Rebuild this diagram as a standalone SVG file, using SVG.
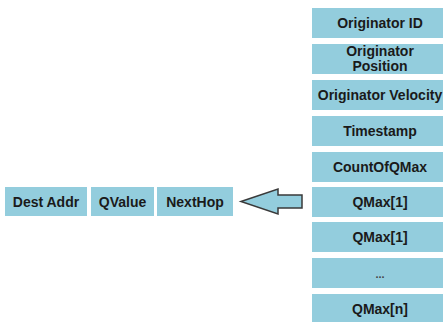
<svg xmlns="http://www.w3.org/2000/svg" width="443" height="322" viewBox="0 0 443 322">
<style>
.box{fill:#93cddd;}
.t{font-family:"Liberation Sans",Arial,sans-serif;font-weight:bold;font-size:14px;fill:#1a1a1a;text-anchor:middle;}
.arrow{fill:#93cddd;stroke:#3a3a3a;stroke-width:1.5;stroke-linejoin:miter;}
</style>
<rect width="443" height="322" fill="#ffffff"/>
<g id="originator-id"><rect class="box" x="312" y="8" width="136" height="30"/><text class="t" x="380" y="28">Originator ID</text></g>
<g id="originator-position"><rect class="box" x="312" y="44" width="136" height="30"/><text class="t" x="380" y="56">Originator</text><text class="t" x="380" y="71">Position</text></g>
<g id="originator-velocity"><rect class="box" x="312" y="80" width="136" height="30"/><text class="t" x="380" y="100">Originator Velocity</text></g>
<g id="timestamp"><rect class="box" x="312" y="116" width="136" height="30"/><text class="t" x="380" y="136">Timestamp</text></g>
<g id="countofqmax"><rect class="box" x="312" y="152" width="136" height="30"/><text class="t" x="380" y="172">CountOfQMax</text></g>
<g id="qmax1a"><rect class="box" x="312" y="187" width="136" height="30"/><text class="t" x="380" y="207">QMax[1]</text></g>
<g id="qmax1b"><rect class="box" x="312" y="222" width="136" height="30"/><text class="t" x="380" y="242">QMax[1]</text></g>
<g id="ellipsis"><rect class="box" x="312" y="258" width="136" height="30"/><text class="t" x="380" y="278" style="font-size:11px;fill:#444">...</text></g>
<g id="qmaxn"><rect class="box" x="312" y="294" width="136" height="30"/><text class="t" x="380" y="314">QMax[n]</text></g>
<g id="dest-addr"><rect class="box" x="5" y="187" width="82" height="29"/><text class="t" x="46" y="206.5">Dest Addr</text></g>
<g id="qvalue"><rect class="box" x="91" y="187" width="63" height="29"/><text class="t" x="122.5" y="206.5">QValue</text></g>
<g id="nexthop"><rect class="box" x="157" y="187" width="76" height="29"/><text class="t" x="195" y="206.5">NextHop</text></g>
<g id="connectors">
<polygon class="arrow" points="241,201.5 278,189 278,195 302,195 302,208 278,208 278,214"/>
</g>
</svg>
